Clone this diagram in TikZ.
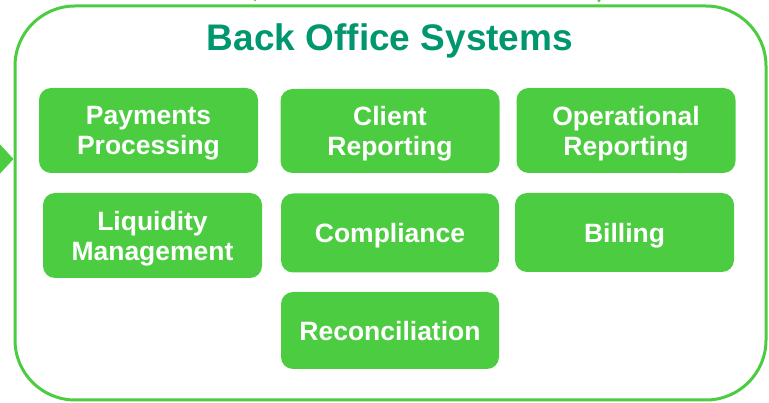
\documentclass[tikz,border=0pt]{standalone}
\usepackage{fontspec}
\setmainfont{Liberation Sans}
\usetikzlibrary{positioning, arrows.meta}
\definecolor{BOGreen}{HTML}{4CCD41}
\definecolor{BOTeal}{HTML}{00966E}

\begin{document}
\begin{tikzpicture}[
				x=1pt, y=-1pt,
				sysbox/.style={
					fill=BOGreen,
					rectangle,
					rounded corners=12pt,
					text=white,
					align=center,
					inner sep=0pt,
					text depth=0pt,
					minimum width=219pt,
					minimum height=84pt,
					font=\fontsize{26.5}{30}\selectfont\bfseries
				},
				panel/.style={
					draw=BOGreen,
					line width=3pt,
					rounded corners=60pt,
					minimum width=751pt,
					minimum height=394pt
				},
				bigarrow/.style={
					-{Triangle[length=16pt, width=34pt]},
					line width=3pt,
					draw=BOGreen
				},
				smallarrow/.style={
					-{Triangle[length=10pt, width=14pt]},
					line width=1pt,
					draw=BOGreen
				}
				]
				\path[use as bounding box, clip] (0,0) rectangle (769,403);
				\node[panel] (bos) at (390.5,203) {};
				\node[font=\fontsize{37}{44}\selectfont\bfseries, text=BOTeal, anchor=base] (title) at (390,51) {Back Office Systems};
				\node[sysbox, minimum height=85pt] (pay) at (148.5,130.5) {Payments\\Processing};
				\node[sysbox] (cli) at (390,131) {Client\\Reporting};
				\node[sysbox, minimum height=85pt] (ops) at (626,130.5) {Operational\\Reporting};
				\node[sysbox, minimum height=85pt] (liq) at (152.5,235.5) {Liquidity\\Management};
				\node[sysbox, minimum width=218pt, minimum height=79pt] (com) at (390,233) {Compliance};
				\node[sysbox, minimum height=79pt] (bil) at (624.5,232.5) {Billing};
				\node[sysbox, minimum width=218pt, minimum height=77pt] (rec) at (390,330.5) {Reconciliation};
				\coordinate (inL) at (-40,159);
				\coordinate (inA) at (255,-30);
				\coordinate (inB) at (599,-30);
				\draw[bigarrow] (inL) -- (inL -| bos.west);
				\draw[smallarrow, shorten >=3pt] (inA) -- (inA |- bos.north);
				\draw[smallarrow, shorten >=2pt] (inB) -- (inB |- bos.north);
			\end{tikzpicture}
\end{document}
